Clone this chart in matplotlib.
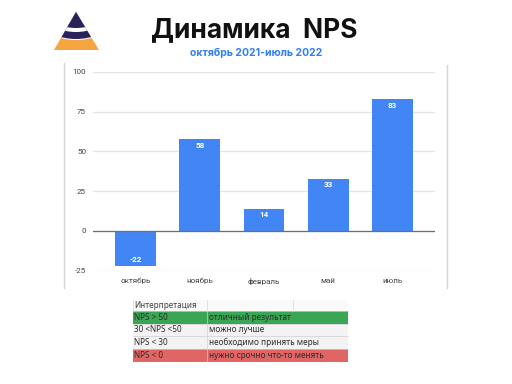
import numpy as np
import matplotlib
matplotlib.use("Agg")
import matplotlib.pyplot as plt
from matplotlib.patches import Polygon, Circle, Rectangle
from matplotlib.lines import Line2D

months = ["октябрь", "ноябрь", "февраль", "май", "июль"]
nps = [-22, 58, 14, 33, 83]
yticks = [-25, 0, 25, 50, 75, 100]

table_header = "Интерпретация"
table_rule = ["NPS > 50", "30 <NPS <50", "NPS < 30", "NPS < 0"]
table_text = ["отличный результат", "можно лучше", "необходимо принять меры",
              "нужно срочно что-то менять"]
row_colors = ["#3aa655", "#f3f3f3", "#f3f3f3", "#e06666"]

plt.rcParams['font.family'] = ['Roboto', 'DejaVu Sans']

fig = plt.figure(figsize=(5.12, 3.84), dpi=100)

# background layer in pixel coordinates (logo, frame, table)
bg = fig.add_axes([0, 0, 1, 1])
bg.set_xlim(0, 512)
bg.set_ylim(384, 0)
bg.axis("off")

# logo
tri = Polygon([(76, 12), (54, 50), (99, 50)], closed=True, fc="#f4a540", ec="none")
bg.add_patch(tri)
for r, c in [(60, "white"), (59, "#27235a"), (52, "white"), (48, "#27235a")]:
    circ = Circle((76, -20), r, fc=c, ec="none")
    bg.add_patch(circ)
    circ.set_clip_path(tri)

fig.text(254 / 512, 1 - 30 / 384, "Динамика  NPS", ha="center", va="center",
         fontsize=19, fontweight="bold", family=["Inter", "DejaVu Sans"], color="#111111")
fig.text(256 / 512, 1 - 53 / 384, "октябрь 2021-июль 2022", ha="center", va="center",
         fontsize=7.5, fontweight="bold", family=["Inter", "DejaVu Sans"], color="#2f7ff5")

# chart frame lines
bg.add_line(Line2D([64, 64], [63, 288], color="#d6d6d6", lw=1))
bg.add_line(Line2D([447, 447], [65, 288], color="#d6d6d6", lw=1))

# table
row_y = [300, 311, 324, 336, 349, 362]
bg.add_patch(Rectangle((133, row_y[0]), 215, row_y[1] - row_y[0], fc="#fafafa", ec="none"))
for xv in [133, 207, 293]:
    bg.add_line(Line2D([xv, xv], [row_y[0], row_y[1]], color="#dddddd", lw=0.6))
bg.text(134, (row_y[0] + row_y[1]) / 2, table_header, ha="left", va="center",
        fontsize=5.9, color="#444444", family=["Noto Sans", "DejaVu Sans"])
for i in range(len(table_rule)):
    y0, y1 = row_y[i + 1], row_y[i + 2]
    bg.add_patch(Rectangle((133, y0), 215, y1 - y0, fc=row_colors[i], ec="none"))
    bg.add_line(Line2D([133, 348], [y0, y0], color="#d0d0d0", lw=0.5))
    bg.add_line(Line2D([207, 207], [y0, y1], color="#d0d0d0", lw=0.5))
    tc = "#2b2b2b"
    bg.text(134, (y0 + y1) / 2, table_rule[i], ha="left", va="center",
            fontsize=5.9, color=tc, family=["Noto Sans", "DejaVu Sans"])
    bg.text(209, (y0 + y1) / 2, table_text[i], ha="left", va="center",
            fontsize=5.9, color=tc, family=["Noto Sans", "DejaVu Sans"])

# chart
ax = fig.add_axes([93 / 512, 1 - 270.7 / 384, 342 / 512, (270.7 - 72) / 384])
ax.set_facecolor("none")
x = np.arange(len(months))
bars = ax.bar(x, nps, width=0.64, color="#4285f4", zorder=3)
ax.set_xlim(-0.67, len(months) - 0.33)
ax.set_ylim(-25, 100)
ax.set_yticks(yticks)
ax.set_yticklabels([str(v) for v in yticks])
ax.set_xticks(x)
ax.set_xticklabels(months)
ax.grid(axis="y", color="#e4e4e4", lw=0.9, zorder=0)
ax.axhline(0, color="#6f6f6f", lw=0.9, zorder=4)
for s in ax.spines.values():
    s.set_visible(False)
ax.tick_params(axis="both", length=0, labelsize=5.8, colors="#444444")
ax.tick_params(axis="y", pad=5)
ax.tick_params(axis="x", pad=5)
for xi, v in zip(x, nps):
    ax.annotate(str(v), (xi, v), xytext=(0, -4.5 if v > 0 else 4.5),
                textcoords="offset points", ha="center", va="center",
                fontsize=5.8, fontweight="bold", color="white", zorder=5)

fig.savefig("out.png", dpi=100)
